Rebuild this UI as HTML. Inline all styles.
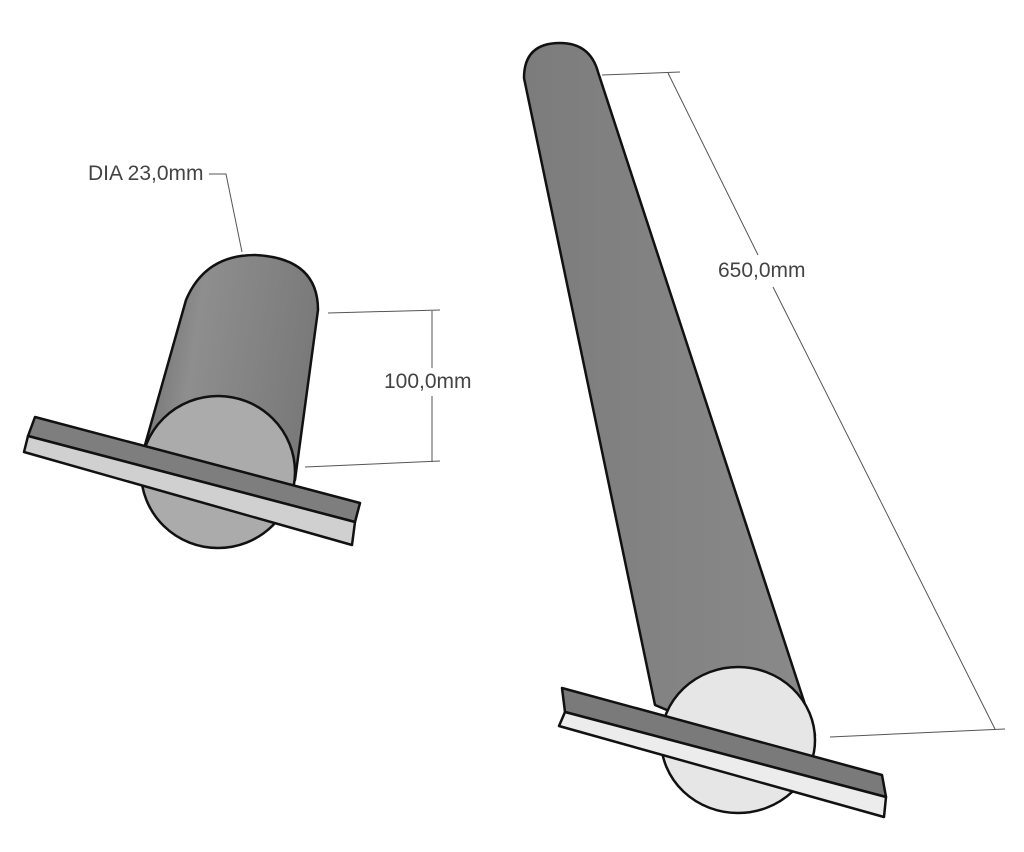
<!DOCTYPE html>
<html><head><meta charset="utf-8"><style>
html,body{margin:0;padding:0;background:#fff;}
svg{display:block}
text{font-family:"Liberation Sans",sans-serif;font-size:21px;fill:#444}
</style></head><body>
<svg width="1024" height="852" viewBox="0 0 1024 852" xmlns="http://www.w3.org/2000/svg">
<defs>
<linearGradient id="g1" x1="0" y1="0" x2="1" y2="0.2">
<stop offset="0" stop-color="#6a6a6a"/><stop offset="0.35" stop-color="#8e8e8e"/><stop offset="1" stop-color="#7a7a7a"/>
</linearGradient>
<linearGradient id="g2" x1="0" y1="0" x2="1" y2="0">
<stop offset="0" stop-color="#7c7c7c"/><stop offset="1" stop-color="#8a8a8a"/>
</linearGradient>
</defs>
<g fill="none" stroke="#555" stroke-width="1">
<polyline points="209,174 226,174 242,252"/>
<line x1="328" y1="313" x2="440" y2="310"/>
<line x1="305" y1="467" x2="440" y2="461"/>
<line x1="432" y1="311" x2="432" y2="368"/>
<line x1="432" y1="396" x2="432" y2="462"/>
<line x1="602" y1="75" x2="680" y2="72"/>
<line x1="830" y1="737" x2="1005" y2="729"/>
<line x1="668" y1="73" x2="758" y2="255"/>
<line x1="773" y1="287" x2="995" y2="729"/>
</g>
<text x="88" y="180">DIA 23,0mm</text>
<text x="384" y="388">100,0mm</text>
<text x="718" y="277">650,0mm</text>

<g stroke="#111" stroke-width="2.5" stroke-linejoin="round">
<path d="M186,300 Q205,255 255,255 Q318,258 318,310 L295,480 L218,472 L145,445 Z" fill="url(#g1)"/>
<ellipse cx="218" cy="472" rx="77" ry="76" fill="#ababab"/>
<polygon points="35,417 360,503 355,522 28,436" fill="#7e7e7e"/>
<polygon points="28,436 355,522 352,545 24,452" fill="#d0d0d0"/>
<path d="M524,78 Q524,43 560,43 Q590,43 598,72 L815,735 L738,740 L655,705 Z" fill="url(#g2)"/>
<ellipse cx="738" cy="740" rx="77" ry="73" fill="#e6e6e6"/>
<polygon points="562,688 882,775 886,797 565,712" fill="#7a7a7a"/>
<polygon points="565,712 886,797 884,817 559,726" fill="#ececec"/>
</g>
</svg>
</body></html>
